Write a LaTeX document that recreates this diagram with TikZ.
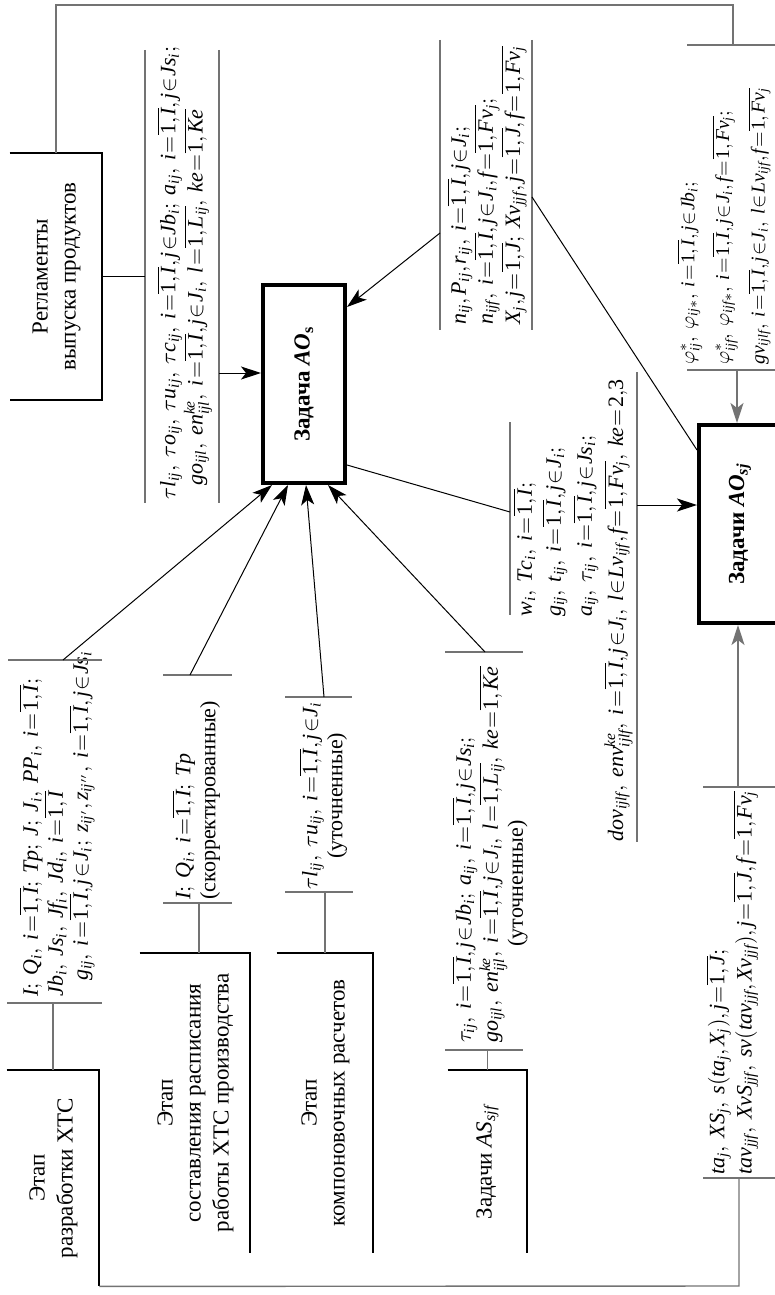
\documentclass[tikz,border=0pt]{standalone}
\usepackage{fontspec}
\setmainfont{Liberation Serif}
\usetikzlibrary{arrows.meta,calc}
\newcommand\fsbox{\fontsize{11.5}{14}\selectfont}
\newcommand\fsform{\fontsize{11}{12.5}\selectfont\thickmuskip=1mu\medmuskip=1mu\thinmuskip=2mu}
\newcommand\fsphi{\fontsize{9.8}{12}\selectfont\thickmuskip=1mu\medmuskip=1mu\thinmuskip=2mu}
\newcommand\F[1]{$\mathit{#1}$}
\newcommand\ov[1]{\overline{\mathrm{1},#1}}
\begin{document}
\begin{tikzpicture}[x=0.5pt,y=0.5pt,
  bar/.style={draw=black!55,line width=0.7pt},
  conn/.style={draw=black,line width=0.5pt},
  arr/.style={conn,-{Stealth[length=10pt,width=6.5pt,inset=2.5pt]}},
  garr/.style={draw=black!55,line width=0.7pt,-{Stealth[length=10pt,width=6.5pt,inset=2.5pt]}},
  fb/.style={draw=black!55,line width=0.7pt},
  sedge/.style={draw=black,line width=1pt},
  lbl/.style={rotate=90,inner sep=0pt,font=\fsform,align=left,anchor=west},
  sbox/.style={inner sep=0pt,font=\fsbox},
  abox/.style={draw=black,line width=2pt,inner sep=0pt,font=\fsbox\bfseries}]
\useasboundingbox (0,0) rectangle (775,-1295);

% ---------- boxes ----------
\node[sbox,minimum width=46pt,minimum height=123.5pt] (Reg) at (56,-276.5)
  {\rotatebox{90}{\begin{tabular}{@{}c@{}}Регламенты\\выпуска продуктов\end{tabular}}};
\draw[sedge] (Reg.north west) -- (Reg.north east) -- (Reg.south east) -- (Reg.south west);

\node[abox,minimum width=41pt,minimum height=99pt] (AOs) at (304,-384)
  {\rotatebox{90}{Задача \textit{AO}\textsubscript{s}}};
\node[abox,minimum width=41pt,minimum height=99pt] (AOsj) at (740,-524)
  {\rotatebox{90}{Задачи \textit{AO}\textsubscript{\textit{sj}}}};

\node[sbox,minimum width=46pt,minimum height=108pt] (B1) at (53,-1178)
  {\rotatebox{90}{\begin{tabular}{@{}c@{}}Этап\\разработки ХТС\end{tabular}}};
\node[sbox,minimum width=55pt,minimum height=150pt] (B2) at (195,-1103)
  {\rotatebox{90}{\begin{tabular}{@{}c@{}}Этап\\составления расписания\\работы ХТС производства\end{tabular}}};
\node[sbox,minimum width=48pt,minimum height=150pt] (B3) at (325,-1103)
  {\rotatebox{90}{\begin{tabular}{@{}c@{}}Этап\\компоновочных расчетов\end{tabular}}};
\node[sbox,minimum width=39.5pt,minimum height=91.5pt] (B4) at (487.5,-1161.5)
  {\rotatebox{90}{Задачи \textit{AS}\textsubscript{\textit{sjf}}}};
\foreach \b in {B1,B2,B3,B4}
  \draw[sedge] (\b.north west) -- (\b.north east) -- (\b.south east);

% ---------- labels ----------
\node[lbl] (tl) at (184.5,-500)
  {\F{\tau l_{ij},\ \tau o_{ij},\ \tau u_{ij},\ \tau c_{ij},\ i=\ov{I}, j\in Jb_i;\ a_{ij},\ i=\ov{I}, j\in Js_i;}\\
   \hspace*{7pt}\F{go_{ijl},\ en^{ke}_{ijl},\ i=\ov{I}, j\in J_i,\ l=\ov{L_{ij}},\ ke=\ov{Ke}}};
\draw[bar] (145,-50) -- (145,-503);
\draw[bar] (219,-50) -- (219,-503);

\node[lbl] (nn) at (487,-325)
  {\F{n_{ij}, P_{ij}, r_{ij},\ i=\ov{I}, j\in J_i;}\\
   \F{n_{ijf},\ i=\ov{I}, j\in J_i, f=\ov{Fv_j};}\\
   \F{X_j, j=\ov{J};\ Xv_{jjf}, j=\ov{J}, f=\ov{Fv_j}}};
\draw[bar] (440,-40) -- (440,-330);
\draw[bar] (532,-40) -- (532,-330);

\node[lbl] (w) at (573,-842)
  {\hspace*{112.5pt}\F{w_i,\ Tc_i,\ i=\ov{I};}\\[2pt]
   \hspace*{112.5pt}\F{g_{ij},\ t_{ij},\ i=\ov{I}, j\in J_i;}\\[2pt]
   \hspace*{112.5pt}\F{a_{ij},\ \tau_{ij},\ i=\ov{I}, j\in Js_i;}\\[2pt]
   \F{dov_{ijlf},\ env^{ke}_{ijlf},\ i=\ov{I}, j\in J_i,\ l\in Lv_{ijf}, f=\ov{Fv_j},\ ke=\mathrm{2{,}3}}};
\draw[bar] (510,-422) -- (510,-615);
\draw[bar] (637,-372) -- (637,-842);

\node[lbl,font=\fsphi] (phi) at (724,-365)
  {\F{\varphi^{*}_{ij},\ \varphi_{ij*},\ i=\ov{I}, j\in Jb_i;}\\[4pt]
   \F{\varphi^{*}_{ijf},\ \varphi_{ijf*},\ i=\ov{I}, j\in J_i, f=\ov{Fv_j};}\\[4pt]
   \F{gv_{ijlf},\ i=\ov{I}, j\in J_i,\ l\in Lv_{ijf}, f=\ov{Fv_j}}};
\draw[bar] (687,-45) -- (775,-45);
\draw[bar] (687,-370) -- (775,-370);

\node[lbl] (ta) at (732,-1175)
  {\F{ta_j,\ XS_j,\ s(ta_j, X_j), j=\ov{J};}\\
   \F{tav_{jjf},\ XvS_{jjf},\ sv(tav_{jjf}, Xv_{jjf}), j=\ov{J}, f=\ov{Fv_j}}};
\draw[bar] (703,-787) -- (775,-787);
\draw[bar] (703,-1178) -- (775,-1178);

\node[lbl] (q1) at (57,-997)
  {\F{I;\ Q_i,\ i=\ov{I};\ Tp;\ J;\ J_i,\ PP_i,\ i=\ov{I};}\\
   \F{Jb_i,\ Js_i,\ Jf_i,\ Jd_i,\ i=\ov{I}}\\
   \hspace*{8pt}\F{g_{ij},\ i=\ov{I}, j\in J_i;\ z_{ij'}, z_{ij''},\ i=\ov{I}, j\in Js_i}};
\draw[bar] (8,-660) -- (102,-660);
\draw[bar] (7,-1003) -- (102,-1003);

\node[lbl] (q2) at (196,-900)
  {\F{I;\ Q_i,\ i=\ov{I};\ Tp}\\(скорректированные)};
\draw[bar] (163,-675) -- (232,-675);
\draw[bar] (163,-903) -- (232,-903);

\node[lbl,align=center] (q3) at (323,-890)
  {\F{\tau l_{ij},\ \tau u_{ij},\ i=\ov{I}, j\in J_i}\\(уточненные)};
\draw[bar] (285,-697) -- (352,-697);
\draw[bar] (285,-892) -- (353,-892);

\node[lbl] (q4) at (490,-1043)
  {\F{\tau_{ij},\ i=\ov{I}, j\in Jb_i;\ a_{ij},\ i=\ov{I}, j\in Js_i;}\\
   \F{go_{ijl},\ en^{ke}_{ijl},\ i=\ov{I}, j\in J_i,\ l=\ov{L_{ij}},\ ke=\ov{Ke}}\\
   \hspace*{48pt}(уточненные)};
\draw[bar] (445,-652) -- (523,-652);
\draw[bar] (445,-1050) -- (523,-1050);

% ---------- connection points ----------
\coordinate (fbA) at (56,-5);
\coordinate (fbB) at (733,-5);
\coordinate (phiT) at (733,-45);
\coordinate (phiB) at (737,-370);
\coordinate (tlL) at (145,-276.5);
\coordinate (tlR) at (219,-373);
\coordinate (nL) at (440,-233);
\coordinate (nR) at (532,-197);
\coordinate (wL) at (510,-512);
\coordinate (wR) at (637,-505);
\coordinate (taT) at (738,-787);
\coordinate (taB) at (739,-1178);
\coordinate (fbC) at (739,-1286);
\coordinate (q1T) at (63,-660);
\coordinate (q1B) at (53,-1003);
\coordinate (q2T) at (190,-675);
\coordinate (q2B) at (199,-903);
\coordinate (q3T) at (324,-697);
\coordinate (q3B) at (325,-892);
\coordinate (q4T) at (485,-652);
\coordinate (q4B) at (487.5,-1050);

% ---------- connectors ----------
\draw[fb] (Reg.north) -- (fbA) -- (fbB) -- (phiT);
\draw[conn] (Reg.east) -- (tlL);
\draw[arr] (tlR) -- ([yshift=5.5pt]AOs.west);
\draw[arr] (nL) -- ([yshift=38.5pt]AOs.east);
\draw[conn] (nR) -- ([yshift=37pt]AOsj.west);
\draw[conn] ([yshift=-40.5pt]AOs.east) -- (wL);
\draw[arr] (wR) -- ([yshift=9.5pt]AOsj.west);
\draw[garr] (phiB) -- ([xshift=-1.5pt]AOsj.north);
\draw[garr] (taT) -- ([xshift=-1pt]AOsj.south);
\draw[fb] (taB) -- (fbC) -- (B1.south east);
\draw[arr] (q1T) -- ([xshift=-16pt]AOs.south);
\draw[arr] (q2T) -- ([xshift=-8pt]AOs.south);
\draw[arr] (q3T) -- ([xshift=1pt]AOs.south);
\draw[arr] (q4T) -- ([xshift=12pt]AOs.south);
\draw[fb] (q1B) -- (B1.north);
\draw[fb] (q2B) -- ([xshift=2pt]B2.north);
\draw[fb] (q3B) -- (B3.north);
\draw[fb] (q4B) -- (B4.north);
\end{tikzpicture}
\end{document}
